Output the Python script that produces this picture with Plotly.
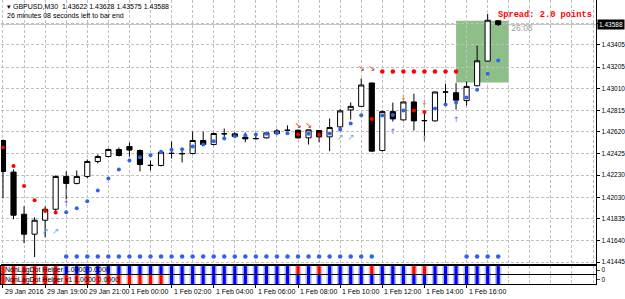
import plotly.graph_objects as go

# ---------------- data ----------------
bars = list(range(48))
opens = [1.42542, 1.42257, 1.41877, 1.41697, 1.41823, 1.41922, 1.42218, 1.42155, 1.42218, 1.42353,
         1.42398, 1.42461, 1.42488, 1.42452, 1.42317, 1.42317, 1.42425, 1.42421, 1.42425, 1.42542,
         1.42506, 1.42602, 1.42602, 1.42572, 1.42560, 1.42566, 1.42605, 1.42635, 1.42635, 1.42566,
         1.42632, 1.42575, 1.42665, 1.42818, 1.42850, 1.43061, 1.42452, 1.42803, 1.42728, 1.42890,
         1.42722, 1.42719, 1.42980, 1.42973, 1.42902, 1.43036, 1.43258, 1.43622]
highs = [1.42551, 1.42281, 1.41949, 1.41850, 1.41949, 1.42227, 1.42263, 1.42272, 1.42371, 1.42416,
         1.42470, 1.42479, 1.42524, 1.42461, 1.42362, 1.42443, 1.42533, 1.42470, 1.42623, 1.42623,
         1.42614, 1.42650, 1.42614, 1.42614, 1.42602, 1.42614, 1.42647, 1.42679, 1.42641, 1.42641,
         1.42636, 1.42740, 1.42827, 1.42886, 1.43102, 1.43063, 1.42812, 1.42884, 1.42893, 1.42964,
         1.42805, 1.42982, 1.43054, 1.43061, 1.43075, 1.43399, 1.43684, 1.43628]
lows = [1.42020, 1.41832, 1.41616, 1.41490, 1.41670, 1.41904, 1.42011, 1.42146, 1.42200, 1.42335,
        1.42389, 1.42398, 1.42398, 1.42263, 1.42272, 1.42308, 1.42380, 1.42344, 1.42416, 1.42497,
        1.42497, 1.42551, 1.42569, 1.42527, 1.42551, 1.42560, 1.42596, 1.42627, 1.42560, 1.42506,
        1.42527, 1.42446, 1.42641, 1.42731, 1.42847, 1.42443, 1.42443, 1.42713, 1.42722, 1.42632,
        1.42536, 1.42713, 1.42875, 1.42821, 1.42857, 1.43032, 1.43252, 1.43575]
closes = [1.42263, 1.41868, 1.41697, 1.41823, 1.41922, 1.42218, 1.42155, 1.42218, 1.42353, 1.42398,
          1.42461, 1.42407, 1.42456, 1.42326, 1.42318, 1.42437, 1.42426, 1.42425, 1.42542, 1.42506,
          1.42605, 1.42603, 1.42578, 1.42557, 1.42559, 1.42611, 1.42629, 1.42634, 1.42566, 1.42638,
          1.42575, 1.42659, 1.42809, 1.42850, 1.43043, 1.42446, 1.42803, 1.42737, 1.42890, 1.42719,
          1.42721, 1.42980, 1.42979, 1.42906, 1.43030, 1.43261, 1.43627, 1.43588]

# NonLagDot values and their signal (1 = up / blue, -1 = down / red)
dot_values = [1.42479, 1.42311, 1.42131, 1.42002, 1.41906, 1.41893, 1.41895, 1.41931, 1.41993, 1.42092,
              1.42200, 1.42281, 1.42362, 1.42392, 1.42410, 1.42440, 1.42458, 1.42464, 1.42488, 1.42506,
              1.42536, 1.42560, 1.42581, 1.42590, 1.42596, 1.42602, 1.42608, 1.42608, 1.42596, 1.42602,
              1.42593, 1.42605, 1.42641, 1.42695, 1.42769, 1.42737, 1.42767, 1.42773, 1.42812, 1.42812,
              1.42800, 1.42830, 1.42866, 1.42884, 1.42929, 1.43000, 1.43144, 1.43264]
dot_signal = [-1, -1, -1, -1, -1, -1, 1, 1, 1, 1,
              1, 1, 1, 1, 1, 1, 1, 1, 1, 1,
              1, 1, 1, 1, 1, 1, 1, 1, -1, 1,
              -1, 1, 1, 1, 1, -1, 1, 1, 1, -1,
              -1, 1, 1, 1, 1, 1, 1, 1]
helper_v1_signal = [-1] * 16 + [1] * 32

# level dots
resist_bars = [36, 37, 38, 39, 40, 41, 42, 43]
resist_level = 1.43165
support_bars = list(range(6, 36)) + [44, 45, 46, 47]
support_level = 1.41496

# arrows
up_right_bars = [4, 5, 32, 33]
up_right_prices = [1.41715, 1.41715, 1.42566, 1.42566]
lightup_bars = [6, 40]
lightup_prices = [1.42065, 1.42557]
purpleup_bars = [6, 37, 43]
purpleup_prices = [1.41966, 1.42617, 1.42724]
down_right_bars = [28, 29, 34, 35]
down_right_prices = [1.42677, 1.42677, 1.43189, 1.43189]
down_bars = [38, 40]
down_prices = [1.42924, 1.42884]

# highlighted zone
zone_start_bar, zone_end_bar = 43.0, 48.0
zone_low, zone_high = 1.43066, 1.43623

price_ticks = [1.43600, 1.43405, 1.43205, 1.43010, 1.42815, 1.42620, 1.42425,
               1.42230, 1.42030, 1.41835, 1.41640, 1.41445]
price_labels = ["", "1.43405", "1.43205", "1.43010", "1.42815", "1.42620", "1.42425",
                "1.42230", "1.42030", "1.41835", "1.41640", "1.41445"]
time_tick_bars = [0, 4, 8, 12, 16, 20, 24, 28, 32, 36, 40, 44]
time_labels = ["29 Jan 2016", "29 Jan 19:00", "29 Jan 21:00", "1 Feb 00:00", "1 Feb 02:00",
               "1 Feb 04:00", "1 Feb 06:00", "1 Feb 08:00", "1 Feb 10:00", "1 Feb 12:00",
               "1 Feb 14:00", "1 Feb 16:00"]
grid_bars = list(range(0, 58, 2))

# ---------------- figure ----------------
W, H = 625, 299
FONT = "Liberation Sans"
GRID = "#c0c0c0"
XR = [-0.189, 56.29]
XD = [0, 597 / W]

def py(px):
    return (H - px) / H

fig = go.Figure()

fig.add_trace(go.Candlestick(
    x=bars, open=opens, high=highs, low=lows, close=closes,
    increasing=dict(line=dict(color="black", width=1), fillcolor="white"),
    decreasing=dict(line=dict(color="black", width=1), fillcolor="black"),
    whiskerwidth=0, showlegend=False, hoverinfo="skip", xaxis="x", yaxis="y"))

fig.add_trace(go.Scatter(
    x=bars, y=dot_values, mode="markers", showlegend=False, hoverinfo="skip",
    marker=dict(size=4, color=["#2f63e8" if s > 0 else "#ff0000" for s in dot_signal])))
fig.add_trace(go.Scatter(
    x=resist_bars, y=[resist_level] * len(resist_bars), mode="markers", showlegend=False,
    hoverinfo="skip", marker=dict(size=4.5, color="#ff0000")))
fig.add_trace(go.Scatter(
    x=support_bars, y=[support_level] * len(support_bars), mode="markers", showlegend=False,
    hoverinfo="skip", marker=dict(size=4.5, color="#2f63e8")))

def arrows(xs, ys, ch, color, size=8):
    fig.add_trace(go.Scatter(
        x=xs, y=ys, mode="text", text=[ch] * len(xs), textposition="middle center",
        textfont=dict(family="DejaVu Sans", size=size, color=color),
        showlegend=False, hoverinfo="skip"))

arrows(up_right_bars, up_right_prices, "↗", "#6ea8e4", 8.5)
arrows(lightup_bars, lightup_prices, "↑", "#8ab8e8", 7.5)
arrows(purpleup_bars, purpleup_prices, "↑", "#7050f0", 7.5)
arrows(down_right_bars, down_right_prices, "↘", "#c0392b", 8.5)
arrows(down_bars, down_prices, "↓", "#e8704c", 8)

# indicator panels
def panel(sig, xa, ya):
    fig.add_trace(go.Bar(x=bars, y=[1] * len(bars), base=0, width=0.6,
                         marker=dict(color=["#b4bef6" if s > 0 else "#f6b4b4" for s in sig], line_width=0),
                         showlegend=False, hoverinfo="skip", xaxis=xa, yaxis=ya))
    fig.add_trace(go.Bar(x=bars, y=[1] * len(bars), base=0, width=0.3,
                         marker=dict(color=["#0000ff" if s > 0 else "#ff0000" for s in sig], line_width=0),
                         showlegend=False, hoverinfo="skip", xaxis=xa, yaxis=ya))

panel(dot_signal, "x2", "y2")
panel(helper_v1_signal, "x3", "y3")

common_x = dict(range=XR, domain=XD, zeroline=False, showticklabels=False,
                showgrid=True, gridcolor=GRID, griddash="3px,2px", gridwidth=1)

fig.update_layout(
    width=W, height=H, margin=dict(l=0, r=0, t=0, b=0),
    paper_bgcolor="white", plot_bgcolor="white", barmode="overlay", boxgap=0.3,
    font=dict(family=FONT, size=7, color="black"),
    xaxis=dict(**common_x, tickvals=grid_bars, ticks="", rangeslider=dict(visible=False),
               showline=True, linecolor="black", linewidth=1, anchor="y"),
    yaxis=dict(domain=[py(265), 1], range=[1.414270, 1.438096], side="right",
               tickvals=price_ticks, ticktext=price_labels, ticks="outside", ticklen=3,
               tickcolor="black", tickfont=dict(size=6.5, family=FONT),
               showline=True, linecolor="black", linewidth=1, zeroline=False,
               showgrid=True, gridcolor=GRID, griddash="3px,2px", gridwidth=1, anchor="x"),
    xaxis2=dict(**common_x, tickvals=grid_bars, ticks="", showline=True, mirror=True,
                linecolor="black", linewidth=1, anchor="y2"),
    yaxis2=dict(domain=[py(275), py(267)], range=[0, 1], side="right", tickvals=[0.5],
                ticktext=["0"], ticks="outside", ticklen=3, tickfont=dict(size=6.5),
                showgrid=False, zeroline=False, showline=True, mirror=True,
                linecolor="black", linewidth=1, anchor="x2"),
    xaxis3=dict(**common_x, tickvals=time_tick_bars, ticks="outside", ticklen=3,
                tickcolor="black", showline=True, mirror=True, linecolor="black",
                linewidth=1, anchor="y3",
                minor=dict(tickvals=grid_bars, showgrid=True, gridcolor=GRID,
                           griddash="3px,2px", ticks="")),
    yaxis3=dict(domain=[py(285), py(276)], range=[0, 1], side="right", tickvals=[0.5],
                ticktext=["0"], ticks="outside", ticklen=3, tickfont=dict(size=6.5),
                showgrid=False, zeroline=False, showline=True, mirror=True,
                linecolor="black", linewidth=1, anchor="x3"),
)

fig.add_shape(type="rect", xref="x", yref="y", x0=zone_start_bar, x1=zone_end_bar,
              y0=zone_low, y1=zone_high, fillcolor="#8fbf88", line_width=0, layer="below")
fig.add_shape(type="line", xref="x domain", yref="y", x0=0, x1=1,
              y0=closes[-1], y1=closes[-1], line=dict(color="#c4c4c4", width=1), layer="below")

ann = []
for b, t in zip(time_tick_bars, time_labels):
    ann.append(dict(x=b, xref="x", y=py(292), yref="paper", text=t, showarrow=False,
                    xanchor="left", yanchor="middle", xshift=0, font=dict(size=7)))
ann += [
    dict(x=4 / W, y=py(6.5), xref="paper", yref="paper", xanchor="left", yanchor="middle",
         showarrow=False, text="▾ GBPUSD,M30  1.43622 1.43628 1.43575 1.43588", font=dict(size=7)),
    dict(x=4 / W, y=py(15.5), xref="paper", yref="paper", xanchor="left", yanchor="middle",
         showarrow=False, text="26 minutes 08 seconds left to bar end", font=dict(size=7)),
    dict(x=595 / W, y=py(15), xref="paper", yref="paper", xanchor="right", yanchor="middle",
         showarrow=False, text="<b>Spread: 2.0 points</b>",
         font=dict(family="Liberation Mono", size=8.7, color="#ff0000")),
    dict(x=503 / W, y=py(28), xref="paper", yref="paper", xanchor="left", yanchor="middle",
         showarrow=False, text="&lt; 26:08", font=dict(size=8.5, color="#a0a0a0")),
    dict(x=598 / W, y=closes[-1], xref="paper", yref="y", xanchor="left", yanchor="middle",
         showarrow=False, text="1.43588", bgcolor="black", borderpad=1,
         font=dict(size=6.5, color="white")),
    dict(x=2 / W, y=py(271), xref="paper", yref="paper", xanchor="left", yanchor="middle",
         showarrow=False, text="NonLagDot Helper 1.0000 0.0000", font=dict(size=7)),
    dict(x=2 / W, y=py(281), xref="paper", yref="paper", xanchor="left", yanchor="middle",
         showarrow=False, text="NonLagDot Helper v1 1.0000 0.0000", font=dict(size=7)),
]
fig.update_layout(annotations=ann)

fig.write_html("out.html")
